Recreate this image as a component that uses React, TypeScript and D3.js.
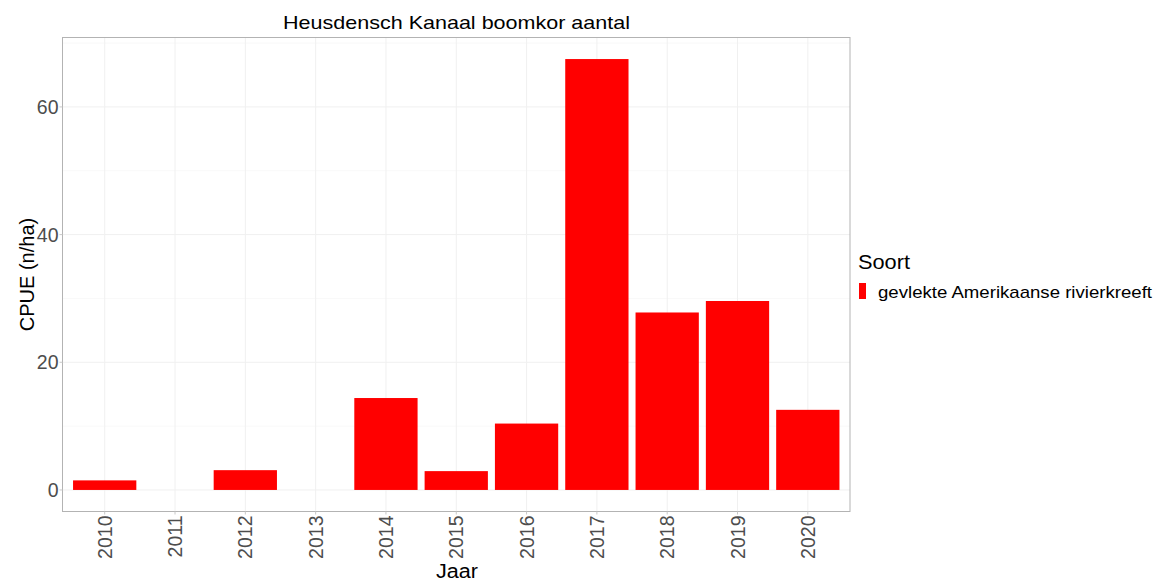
import * as React from 'react';
import * as d3 from 'd3';

const years = ['2010', '2011', '2012', '2013', '2014', '2015', '2016', '2017', '2018', '2019', '2020'];
const cpue = [1.5, 0, 3.1, 0, 14.4, 2.95, 10.4, 67.5, 27.8, 29.6, 12.55];
const yTicks = [0, 20, 40, 60];
const yMinor = [10, 30, 50, 70];
const legendLabel = 'gevlekte Amerikaanse rivierkreeft';

const W = 1160;
const H = 581;
const panel = { left: 62.5, right: 850, top: 37.5, bottom: 511.5 };
const font = 'Liberation Sans, Arial, sans-serif';

const App: React.FunctionComponent = () => {
    const ref = React.useRef<SVGSVGElement>(null);

    React.useEffect(() => {
        if (!ref.current) {
            return;
        }
        const svg = d3.select(ref.current);
        svg.selectAll('*').remove();

        const maxV = d3.max(cpue) as number;
        const x = d3.scaleLinear().domain([0.4, years.length + 0.6]).range([panel.left, panel.right]);
        const y = d3.scaleLinear().domain([-0.05 * maxV, maxV * 1.05]).range([panel.bottom, panel.top]);

        // grid
        const grid = svg.append('g');
        grid.selectAll('line.ymin')
            .data(yMinor)
            .join('line')
            .attr('x1', panel.left).attr('x2', panel.right)
            .attr('y1', d => y(d)).attr('y2', d => y(d))
            .attr('stroke', '#f5f5f5').attr('stroke-width', 0.6);
        grid.selectAll('line.ymaj')
            .data(yTicks)
            .join('line')
            .attr('x1', panel.left).attr('x2', panel.right)
            .attr('y1', d => y(d)).attr('y2', d => y(d))
            .attr('stroke', '#f0f0f0').attr('stroke-width', 1);
        grid.selectAll('line.x')
            .data(years)
            .join('line')
            .attr('x1', (d, i) => x(i + 1)).attr('x2', (d, i) => x(i + 1))
            .attr('y1', panel.top).attr('y2', panel.bottom)
            .attr('stroke', '#f0f0f0').attr('stroke-width', 1);

        // bars
        svg.append('g').selectAll('rect')
            .data(cpue)
            .join('rect')
            .attr('x', (d, i) => x(i + 1 - 0.45))
            .attr('width', x(1.45) - x(0.55))
            .attr('y', d => y(Math.max(d, 0)))
            .attr('height', d => Math.abs(y(0) - y(d)))
            .attr('fill', '#ff0000');

        // panel border
        svg.append('rect')
            .attr('x', panel.left).attr('y', panel.top)
            .attr('width', panel.right - panel.left).attr('height', panel.bottom - panel.top)
            .attr('fill', 'none').attr('stroke', '#b3b3b3').attr('stroke-width', 1);

        // y axis
        const ya = svg.append('g');
        ya.selectAll('line')
            .data(yTicks)
            .join('line')
            .attr('x1', panel.left - 3).attr('x2', panel.left)
            .attr('y1', d => y(d)).attr('y2', d => y(d))
            .attr('stroke', '#c8c8c8');
        ya.selectAll('text')
            .data(yTicks)
            .join('text')
            .attr('x', panel.left - 4)
            .attr('y', d => y(d))
            .attr('dy', '0.36em')
            .attr('text-anchor', 'end')
            .attr('font-family', font).attr('font-size', 19.5)
            .attr('fill', '#4d4d4d')
            .text(d => d);

        // x axis
        const xa = svg.append('g');
        xa.selectAll('line')
            .data(years)
            .join('line')
            .attr('x1', (d, i) => x(i + 1)).attr('x2', (d, i) => x(i + 1))
            .attr('y1', panel.bottom).attr('y2', panel.bottom + 3)
            .attr('stroke', '#c8c8c8');
        xa.selectAll('text')
            .data(years)
            .join('text')
            .attr('transform', (d, i) => `translate(${x(i + 1)},${panel.bottom + 4}) rotate(-90)`)
            .attr('dy', '0.36em')
            .attr('text-anchor', 'end')
            .attr('font-family', font).attr('font-size', 19.5)
            .attr('fill', '#4d4d4d')
            .text(d => d);

        // titles
        svg.append('text')
            .attr('x', 283).attr('y', 29)
            .attr('textLength', 347).attr('lengthAdjust', 'spacingAndGlyphs')
            .attr('font-family', font).attr('font-size', 18.5)
            .attr('fill', '#000')
            .text('Heusdensch Kanaal boomkor aantal');
        svg.append('text')
            .attr('x', 436).attr('y', 578)
            .attr('textLength', 42).attr('lengthAdjust', 'spacingAndGlyphs')
            .attr('font-family', font).attr('font-size', 20)
            .attr('fill', '#000')
            .text('Jaar');
        svg.append('text')
            .attr('transform', `translate(34,${(panel.top + panel.bottom) / 2}) rotate(-90)`)
            .attr('text-anchor', 'middle')
            .attr('font-family', font).attr('font-size', 20)
            .attr('fill', '#000')
            .text('CPUE (n/ha)');

        // legend
        const lg = svg.append('g');
        lg.append('text')
            .attr('x', 858).attr('y', 269)
            .attr('textLength', 52).attr('lengthAdjust', 'spacingAndGlyphs')
            .attr('font-family', font).attr('font-size', 20)
            .attr('fill', '#000')
            .text('Soort');
        lg.append('rect')
            .attr('x', 859).attr('y', 283)
            .attr('width', 7).attr('height', 16)
            .attr('fill', '#ff0000');
        lg.append('text')
            .attr('x', 878).attr('y', 298)
            .attr('textLength', 274).attr('lengthAdjust', 'spacingAndGlyphs')
            .attr('font-family', font).attr('font-size', 17)
            .attr('fill', '#000')
            .text(legendLabel);
    });

    return <svg ref={ref} width={W} height={H} style={{ display: 'block', position: 'absolute', left: 0, top: 0, background: '#fff' }} />;
};

export default App;
